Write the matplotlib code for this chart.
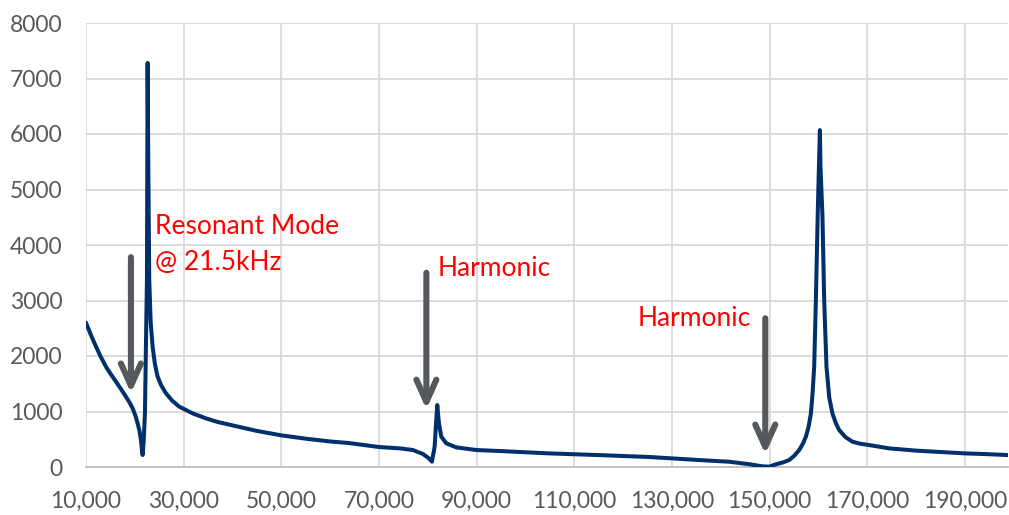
import matplotlib
matplotlib.use("Agg")
import matplotlib.pyplot as plt
from matplotlib.ticker import FuncFormatter

# Frequency (Hz) and response values
freq = [10000, 11000, 12045, 13000, 14090, 15100, 16140, 17200, 18180, 19000,
        19550, 20100, 20570, 20950, 21250, 21450, 21590, 21800, 22070, 22270,
        22480, 22620, 22750, 22950, 23250, 23640, 24100, 24660, 25400, 26360,
        27600, 29090, 31820, 34540, 37000, 40000, 45000, 50000, 55000, 60000,
        64000, 70000, 74230, 76950, 79000, 80220, 80840, 81390, 81730, 81930,
        82270, 82750, 83780, 85820, 89910, 94680, 104900, 115000, 125400, 135600,
        141700, 145800, 148500, 149900, 151270, 152800, 154000, 155000, 156040, 156800,
        157410, 157950, 158440, 158800, 159110, 159460, 159850, 160280, 160400, 160810,
        161160, 161630, 162200, 162850, 163500, 164220, 165500, 166940, 168500, 170330,
        174420, 180000, 185000, 190100, 195000, 198800]
resp = [2600, 2380, 2170, 1990, 1807, 1670, 1537, 1400, 1267, 1150,
        1057, 930, 787, 650, 486, 320, 216, 450, 967, 2170,
        3370, 7280, 5500, 3370, 2600, 2170, 1860, 1630, 1470, 1330,
        1200, 1087, 967, 877, 810, 750, 650, 570, 510, 460,
        430, 360, 336, 306, 234, 156, 96, 366, 847, 1117,
        787, 546, 426, 354, 306, 288, 245, 215, 180, 125,
        95, 50, 12, 6, 48, 85, 126, 200, 306, 420,
        546, 720, 966, 1350, 1807, 3010, 4600, 6070, 5410, 4510,
        3010, 1807, 1250, 966, 800, 667, 540, 456, 420, 396,
        336, 295, 270, 245, 230, 215]

x_ticks = [10000, 30000, 50000, 70000, 90000, 110000, 130000, 150000, 170000, 190000]
y_ticks = [0, 1000, 2000, 3000, 4000, 5000, 6000, 7000, 8000]

# Annotation arrows: (x, y_top, y_tip)
arrows = [(19200, 3780, 1330), (79700, 3500, 1040), (149100, 2680, 230)]

font = ["Lato", "DejaVu Sans"]

fig = plt.figure(figsize=(10.09, 5.15), dpi=100)
ax = fig.add_axes([86 / 1009, 48 / 515, 922 / 1009, 444 / 515])

ax.plot(freq, resp, color="#00306B", lw=2.9, solid_joinstyle="round",
        solid_capstyle="round", zorder=3)

ax.set_xlim(10000, 198800)
ax.set_ylim(0, 8000)
ax.set_xticks(x_ticks)
ax.set_yticks(y_ticks)
ax.xaxis.set_major_formatter(FuncFormatter(lambda v, p: f"{int(v):,}"))
ax.grid(True, color="#D9D9D9", lw=1.3, zorder=0)
ax.set_axisbelow(True)
for s in ["top", "right", "left"]:
    ax.spines[s].set_visible(False)
ax.spines["bottom"].set_color("#BFBFBF")
ax.spines["bottom"].set_linewidth(1.3)
ax.tick_params(axis="both", length=0, labelcolor="#595959", labelsize=16.5)
ax.tick_params(axis="y", pad=17)
ax.tick_params(axis="x", pad=17)
for lab in ax.get_xticklabels() + ax.get_yticklabels():
    lab.set_family(font)

for xa, yt, yb in arrows:
    ax.annotate("", xy=(xa, yb), xytext=(xa, yt),
                arrowprops=dict(arrowstyle="->,head_length=0.8,head_width=0.36",
                                color="#55585C", lw=4.4, mutation_scale=20,
                                shrinkA=0, shrinkB=0),
                zorder=4)

ax.text(24100, 4340, "Resonant Mode", color="#FF0000", fontsize=19,
        family=font, ha="left", va="center", zorder=5)
ax.text(24100, 3690, "@ 21.5kHz", color="#FF0000", fontsize=19,
        family=font, ha="left", va="center", zorder=5)
ax.text(82000, 3585, "Harmonic", color="#FF0000", fontsize=19,
        family=font, ha="left", va="center", zorder=5)
ax.text(146200, 2680, "Harmonic", color="#FF0000", fontsize=19,
        family=font, ha="right", va="center", zorder=5)

fig.savefig("out.png", dpi=100)
